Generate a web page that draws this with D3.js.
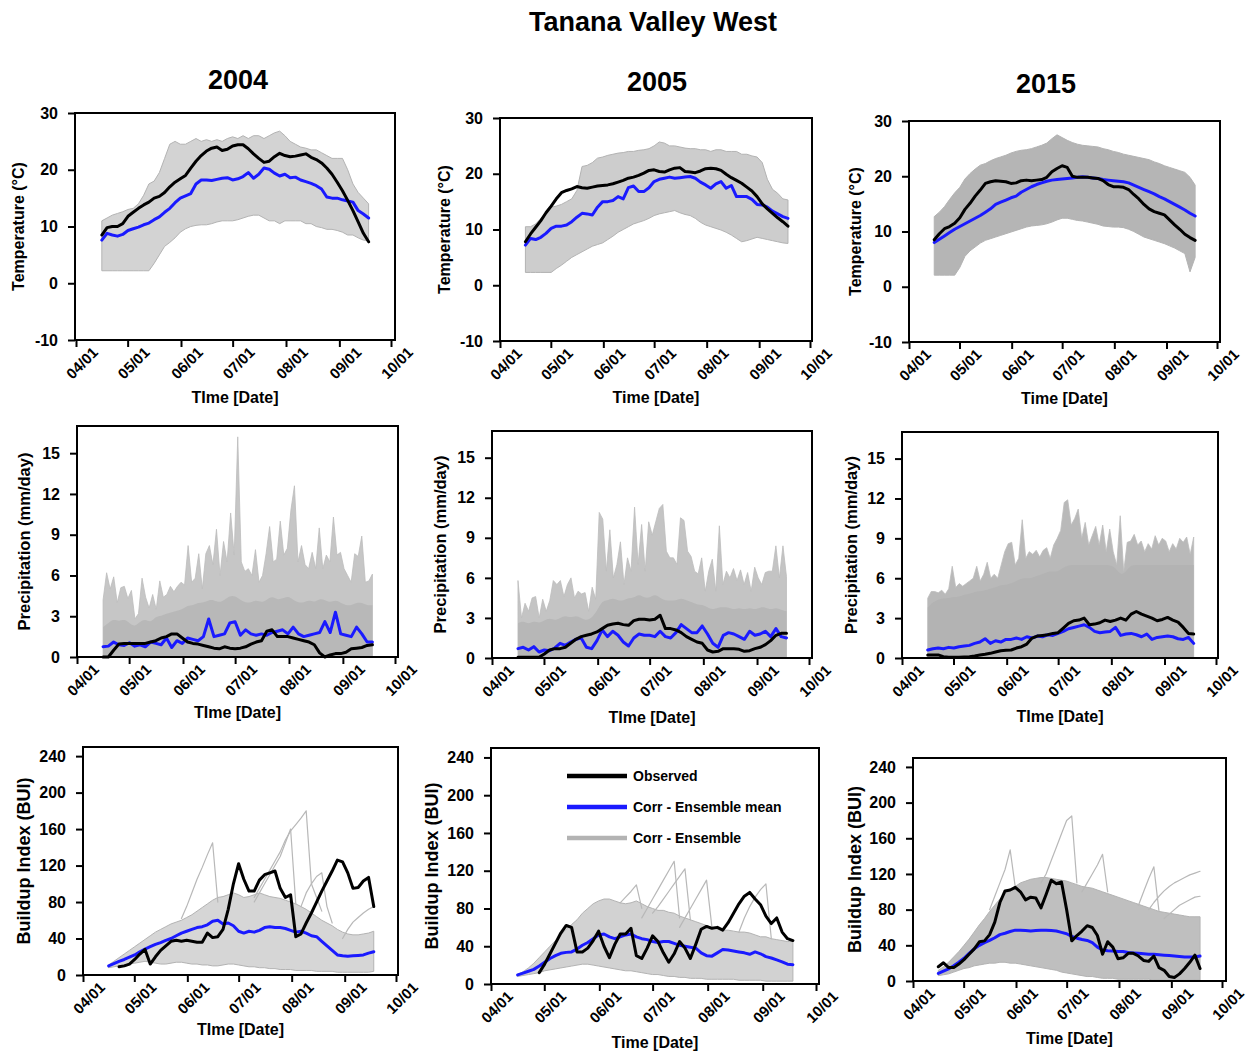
<!DOCTYPE html>
<html>
<head>
<meta charset="utf-8">
<title>Tanana Valley West</title>
<script src="https://cdn.jsdelivr.net/npm/d3@7"></script>
<style>
  body { margin: 0; background: #fff; }
  svg text { font-family: "Liberation Sans", Arial, Helvetica, sans-serif; font-weight: bold; fill: #000; }
</style>
</head>
<body>
<div id="chart"></div>
<script>
// ---------- data ----------
var mainTitle = "Tanana Valley West";
var years = ["2004", "2005", "2015"];
var monthTicks = ["04/01", "05/01", "06/01", "07/01", "08/01", "09/01", "10/01"];
var seriesStart = "04/16", seriesEnd = "09/18";   // first / last simulated day
var tempTicks = [-10, 0, 10, 20, 30];
var precTicks = [0, 3, 6, 9, 12, 15];
var buiTicks = [0, 40, 80, 120, 160, 200, 240];
var legendItems = ["Observed", "Corr - Ensemble mean", "Corr - Ensemble"];

// temperature, every ~3 days
var tObs04 = [8.5, 9.8, 10, 10, 10.5, 11.8, 12.5, 13.2, 13.8, 14.3, 15, 15.3, 16, 17, 17.8, 18.4, 19, 20.3, 21.5, 22.5, 23.3, 23.8, 24, 23.4, 23.6, 24.2, 24.4, 24.4, 23.7, 22.8, 22, 21.3, 21.5, 22.3, 22.9, 22.5, 22.3, 22.4, 22.6, 22.8, 22.2, 21.8, 21.2, 20.3, 19.2, 17.8, 16.3, 14.6, 12.8, 10.8, 8.8, 7.3];
var tMean04 = [7.6, 8.8, 8.5, 8.3, 8.6, 9.3, 9.6, 9.9, 10.3, 10.6, 11.2, 11.7, 12.5, 13.2, 14.2, 15, 15.4, 15.8, 17.5, 18.2, 18.2, 18.1, 18.3, 18.5, 18.6, 18.2, 18.4, 18.8, 19.5, 18.5, 19.2, 20.3, 20.1, 19.4, 18.9, 19.2, 18.6, 18.7, 18.2, 17.9, 17.6, 17.2, 16.6, 15.2, 15, 15, 14.7, 14.5, 14.3, 12.8, 12.2, 11.5];
var tHi04 = [11, 11.5, 12, 12.3, 12.6, 13, 13.2, 14, 15.5, 17.5, 18, 19.5, 22, 24.5, 25, 24.5, 24.5, 25, 25.5, 25, 25.3, 25, 25.3, 25, 25.5, 25.8, 25.5, 26, 25.5, 26, 26, 25.5, 26, 26.5, 26.8, 26, 25, 24.5, 24, 23.8, 23.5, 23.5, 23, 22.5, 22, 22, 22, 20, 17.5, 16, 15, 14];
var tLo04 = [2.2, 2.2, 2.2, 2.2, 2.2, 2.2, 2.2, 2.2, 2.2, 2.2, 3.5, 5, 6.5, 7.2, 8, 9, 9.6, 10, 10.2, 10.3, 10.3, 10.5, 10.8, 11, 11, 11, 11.2, 11.5, 11.8, 12, 12, 11.5, 11, 11, 10.5, 11, 11, 11, 11, 10.5, 10.5, 10, 9.8, 9.5, 9.5, 9.3, 9, 8.5, 8.5, 8, 7.6, 7.5];

var tObs05 = [7.8, 9.2, 10.4, 11.6, 13, 14.2, 15.5, 16.6, 17, 17.3, 17.7, 17.5, 17.4, 17.6, 17.8, 17.9, 18, 18.2, 18.5, 18.8, 19.2, 19.4, 19.7, 20.1, 20.6, 20.7, 20.4, 20.3, 20.7, 21, 21.1, 20.4, 20.3, 20.2, 20.5, 20.9, 21, 20.9, 20.6, 19.9, 19.3, 18.8, 18.3, 17.6, 16.9, 15.9, 14.6, 13.7, 12.9, 12.1, 11.4, 10.6];
var tMean05 = [7.2, 8.4, 8.2, 8.6, 9.3, 10.2, 10.6, 10.6, 10.8, 11.4, 12.2, 12.9, 12.8, 12.6, 14, 15, 15, 15.2, 15.9, 15.5, 17.5, 17.8, 16.8, 16.8, 17.5, 18.6, 19, 19.2, 19.4, 19.2, 19.3, 19.4, 19.5, 19.2, 18.5, 18, 17.4, 18.2, 18.6, 17.4, 17.9, 15.9, 15.9, 15.9, 15.4, 14.5, 14.4, 14, 13.3, 12.8, 12.3, 12];
var tHi05 = [10.5, 10.5, 11, 12, 13, 14, 14.2, 14.5, 15, 15.5, 17, 21.3, 21.5, 22, 22.8, 23, 23.3, 23.5, 23.7, 23.8, 24, 24, 24.2, 24.3, 24.5, 25, 25.7, 25.5, 25, 25, 24.8, 24.6, 24.5, 24.5, 24.3, 24.3, 24, 24.3, 24.3, 24, 24, 24, 23.5, 23.5, 23.2, 23, 22, 19, 17.2, 16.5, 15.5, 15.3];
var tLo05 = [2.3, 2.3, 2.3, 2.3, 2.3, 2.3, 3, 3.6, 4.3, 5, 5.5, 6, 6.5, 7, 7.3, 7.6, 8.2, 8.8, 9.5, 10, 10.5, 11, 11.3, 11.6, 12, 12.5, 12.8, 13, 13.2, 13.4, 13, 12.7, 12.5, 12, 11.3, 10.8, 10.5, 10.2, 9.9, 9.5, 9, 8.4, 7.8, 8, 8.3, 8.6, 8.4, 8.2, 8, 7.8, 7.6, 7.5];

var tObs15 = [8.5, 9.6, 10.5, 10.9, 11.5, 12.5, 14, 15.1, 16.4, 17.5, 18.7, 19, 19.2, 19.1, 19, 18.7, 18.8, 19.2, 19.3, 19.2, 19.3, 19.4, 19.8, 20.8, 21.4, 21.9, 21.6, 20, 19.8, 19.8, 19.8, 19.7, 19.6, 19.2, 18.5, 18.1, 18.1, 18, 17.6, 16.7, 15.9, 14.9, 14.1, 13.6, 13.3, 13, 12.1, 11.2, 10.4, 9.5, 8.9, 8.4];
var tMean15 = [8, 8.6, 9.2, 9.8, 10.4, 10.9, 11.4, 11.9, 12.4, 12.9, 13.5, 14.1, 14.9, 15.3, 15.7, 16.1, 16.4, 17.1, 17.6, 18.1, 18.5, 18.8, 19.1, 19.3, 19.4, 19.5, 19.6, 19.7, 19.8, 19.9, 19.8, 19.7, 19.6, 19.4, 19.3, 19.2, 19.1, 19, 18.8, 18.4, 18, 17.6, 17.2, 16.8, 16.3, 15.9, 15.4, 14.9, 14.4, 13.9, 13.3, 12.8];
var tHi15 = [12.7, 13.5, 14.5, 15.8, 17, 18, 19.5, 20.5, 21.3, 22, 22.3, 22.8, 23.2, 23.5, 23.8, 24.2, 24.5, 24.7, 24.8, 25, 25.3, 25.6, 26, 26.8, 27.5, 27, 26.5, 26.1, 25.8, 25.6, 25.5, 25.4, 25.3, 25, 24.8, 24.5, 24.3, 24, 23.8, 23.6, 23.4, 23.2, 23, 22.6, 22.3, 21.9, 21.6, 21.3, 21, 20.7, 19.8, 18.4];
var tLo15 = [2.1, 2.1, 2.1, 2.1, 2.1, 3.5, 5.5, 6.5, 7.2, 7.9, 8.4, 8.7, 9, 9.3, 9.6, 9.9, 10.2, 10.5, 10.8, 11, 11.1, 11.2, 11.4, 11.7, 12.1, 12.4, 12.4, 12.2, 12, 11.9, 11.7, 11.5, 11.3, 11, 10.9, 10.8, 10.8, 10.7, 10.4, 10, 9.5, 9, 8.7, 8.4, 8.1, 7.8, 7.4, 7, 6.5, 6, 2.7, 5.3];

// precipitation: obs / mean / dense ensemble core every ~3 days, ensemble peaks every ~2 days
var pObs04 = [0, 0, 0.5, 0.95, 1, 1, 1, 1, 1, 1.1, 1.2, 1.4, 1.5, 1.7, 1.7, 1.4, 1.1, 1, 0.95, 0.85, 0.75, 0.65, 0.6, 0.75, 0.65, 0.6, 0.65, 0.75, 0.95, 1.1, 1.2, 1.9, 2, 1.5, 1.5, 1.5, 1.4, 1.3, 1.2, 1.1, 0.9, 0.3, 0, 0.15, 0.25, 0.25, 0.35, 0.6, 0.65, 0.7, 0.85, 0.9];
var pMean04 = [0.76, 0.8, 1.1, 0.9, 0.85, 1.05, 0.8, 0.9, 0.75, 1.1, 1, 0.9, 1.4, 0.7, 1.2, 1, 1.4, 1.3, 1.2, 1.5, 2.8, 1.5, 1.6, 1.7, 2.5, 2.6, 1.6, 2, 1.7, 1.6, 1.7, 1.6, 1.8, 1.9, 2, 1.7, 2.2, 1.7, 1.5, 1.6, 1.7, 1.8, 2.6, 1.8, 3.3, 1.7, 1.6, 1.5, 2.2, 1.7, 1.1, 1.1];
var pCore04 = [2.2, 2.5, 2.8, 2.6, 2.8, 2.5, 2.2, 2.6, 2.8, 2.5, 3, 3, 3.2, 3.3, 3.4, 3.5, 3.8, 3.8, 4, 4, 4.2, 4.2, 4, 4.2, 4.5, 4.5, 4.2, 4, 4, 4.2, 4, 4.2, 4.5, 4.2, 4.3, 4.5, 4.2, 4, 4, 4.2, 4, 4.3, 4.2, 4, 4.2, 4, 3.8, 3.8, 4, 4, 3.8, 3.8];
var pPeak04 = [4.2, 6.2, 5.0, 5.9, 4.0, 5.1, 5.2, 4.3, 4.9, 2.8, 3.2, 5.8, 4.4, 3.6, 4.6, 3.5, 5.6, 4.4, 4.6, 5.2, 4.8, 5.2, 5.5, 5.3, 8.2, 5.5, 5.8, 7.6, 5.0, 7.6, 8.2, 6.8, 9.4, 6.0, 8.5, 7.0, 10.6, 7.5, 16.2, 7.0, 6.3, 6.5, 6.0, 7.9, 5.5, 6.0, 7.6, 9.6, 7.0, 7.2, 10.0, 7.5, 8.0, 10.8, 12.6, 7.0, 8.2, 6.8, 6.5, 7.7, 6.5, 9.5, 6.5, 7.5, 7.0, 10.3, 7.5, 7.7, 6.5, 6.0, 5.5, 7.6, 7.4, 8.9, 5.5, 5.6, 6.1];

var pObs05 = [0.05, 0.05, 0.05, 0.05, 0.05, 0.3, 0.6, 0.7, 0.7, 0.8, 1.1, 1.4, 1.6, 1.7, 1.8, 1.95, 2.2, 2.45, 2.55, 2.6, 2.5, 2.45, 2.8, 2.9, 2.9, 2.85, 2.9, 3.2, 2.2, 2.2, 2.1, 1.9, 1.6, 1.4, 1.2, 1.1, 0.6, 0.45, 0.5, 0.7, 0.7, 0.7, 0.65, 0.5, 0.55, 0.7, 0.8, 1, 1.3, 1.7, 1.85, 1.85];
var pMean05 = [0.7, 0.8, 0.6, 0.85, 0.45, 0.6, 0.55, 0.75, 1.1, 0.95, 1.2, 1.4, 1.5, 0.8, 0.7, 1.3, 2.1, 1.6, 2, 1.7, 1.2, 0.9, 1.5, 1.8, 1.7, 1.7, 1.6, 2, 1.6, 1.5, 1.9, 2.5, 2.2, 1.9, 1.9, 2.4, 1.8, 1.1, 0.8, 1.7, 1.9, 1.8, 1.6, 1.4, 2, 1.7, 1.8, 2, 1.6, 2.2, 1.6, 1.5];
var pCore05 = [2.6, 2.8, 2.5, 2.8, 2.6, 2.8, 3, 2.8, 3, 3.2, 3, 3.2, 3, 2.8, 3, 3.5, 4.3, 4.3, 4.5, 4.3, 4.3, 4.5, 4.5, 4.8, 4.5, 4.5, 4.8, 4.5, 4.3, 4.3, 4.3, 4.5, 4.3, 4.2, 4, 4, 3.8, 3.6, 3.8, 3.8, 3.8, 3.6, 3.8, 3.6, 3.8, 3.6, 3.8, 3.8, 3.6, 3.8, 3.6, 3.5];
var pPeak05 = [5.8, 3.0, 4.1, 3.5, 4.5, 4.6, 3.0, 4.4, 3.5, 4.3, 5.8, 5.5, 5.8, 4.6, 5.5, 6.0, 4.5, 5.0, 4.8, 4.9, 3.5, 5.3, 4.4, 10.9, 10.4, 6.5, 9.6, 6.0, 7.0, 8.7, 5.5, 7.5, 6.5, 11.3, 7.0, 10.0, 6.5, 10.2, 9.2, 10.2, 11.2, 11.5, 8.0, 7.5, 7.5, 7.0, 10.5, 10.3, 8.0, 7.6, 6.5, 6.3, 7.5, 5.0, 6.5, 7.4, 5.0, 9.9, 5.5, 6.5, 6.0, 6.7, 5.8, 6.6, 5.5, 6.4, 5.0, 6.8, 6.0, 5.5, 6.4, 6.5, 6.5, 8.4, 6.0, 8.4, 6.1];

var pObs15 = [0.23, 0.23, 0.23, 0.1, 0.05, 0.05, 0.05, 0.08, 0.1, 0.15, 0.22, 0.28, 0.35, 0.45, 0.55, 0.58, 0.6, 0.75, 0.85, 1.05, 1.5, 1.65, 1.7, 1.75, 1.85, 1.9, 2.25, 2.6, 2.8, 2.85, 3, 2.5, 2.55, 2.65, 2.85, 2.75, 2.85, 3, 2.85, 3.3, 3.5, 3.3, 3.15, 3, 2.8, 2.9, 3.05, 2.85, 2.7, 2.3, 1.85, 1.8];
var pMean15 = [0.6, 0.7, 0.75, 0.7, 0.8, 0.75, 0.85, 0.9, 0.95, 1.1, 1.2, 1.45, 1.1, 1.3, 1.2, 1.4, 1.4, 1.5, 1.4, 1.6, 1.5, 1.65, 1.6, 1.75, 1.7, 1.85, 2, 2.2, 2.3, 2.4, 2.5, 2.3, 2, 1.9, 1.95, 2, 2.3, 1.7, 1.8, 1.85, 1.75, 1.6, 1.8, 1.4, 1.55, 1.6, 1.65, 1.6, 1.45, 1.4, 1.55, 1.1];
var pCore15 = [3.8, 4.2, 4.4, 4.5, 4.5, 4.6, 4.6, 4.8, 4.8, 5, 5, 5.1, 5.2, 5.3, 5.5, 5.5, 5.6, 5.8, 6, 6, 6, 6.2, 6.3, 6.5, 6.5, 6.5, 6.8, 7, 7, 7, 7, 7, 7, 7, 7, 7, 6.8, 6.2, 6.5, 7, 7, 7, 7, 7, 7, 7, 7, 7, 7, 7, 7, 7];
var pPeak15 = [4.5, 5.0, 5.0, 4.9, 5.1, 4.8, 5.2, 6.9, 5.3, 5.6, 5.4, 5.6, 5.8, 6.0, 6.9, 5.8, 6.3, 7.2, 6.0, 6.3, 6.0, 7.0, 8.0, 8.6, 8.7, 7.0, 7.5, 10.4, 7.5, 8.0, 7.8, 8.1, 7.6, 8.1, 8.3, 7.5, 8.5, 9.0, 9.6, 11.7, 11.9, 10.0, 10.5, 11.2, 9.0, 10.2, 8.5, 9.2, 9.9, 8.5, 10.0, 8.0, 9.7, 8.0, 7.0, 10.7, 6.5, 8.7, 8.8, 9.3, 8.5, 8.8, 8.0, 8.6, 8.2, 9.2, 8.5, 9.0, 8.8, 8.0, 8.6, 8.2, 9.0, 8.7, 9.1, 7.8, 9.1];

// buildup index, every ~3 days (null = no observation yet)
var bObs04 = [null, null, 9, 10, 12, 17, 23, 28, 12, 20, 27, 32, 37, 38, 37, 38, 37, 36, 36, 46, 41, 42, 50, 72, 100, 122, 105, 92, 92, 104, 110, 112, 114, 95, 85, 88, 42, 45, 57, 68, 80, 92, 103, 114, 126, 124, 112, 95, 96, 103, 107, 75];
var bMean04 = [10, 12.5, 15, 17, 19.5, 22, 25.5, 28.5, 31, 33.5, 35.5, 38, 40, 43, 46, 48, 50, 52, 53, 55, 59, 60, 56, 57, 54, 48, 46, 48, 47, 49, 52, 53, 52, 52, 51, 49, 47, 48, 46, 43, 42, 37, 32, 27, 22, 21, 20.5, 21, 21.5, 22, 24, 25.5];
var bHi04 = [11, 15, 19, 23, 27, 31, 35, 39, 43, 47, 50, 53, 56, 58, 60, 63, 66, 70, 74, 78, 82, 85, 86, 88, 90, 88, 85, 86, 88, 90, 88, 86, 85, 84, 82, 80, 78, 75, 72, 68, 64, 60, 57, 54, 50, 47, 45, 44, 44, 45, 46, 48];
var bLo04 = [8, 9, 10, 11, 12, 13, 14, 15, 14, 13, 12, 12, 13, 14, 14, 13, 12, 12, 11, 11, 10, 10, 11, 12, 12, 11, 10, 9, 9, 8, 8, 7, 7, 6, 6, 6, 5, 5, 5, 5, 4, 4, 4, 4, 3, 3, 3, 3, 3, 3, 3, 4];
var bSpikeStart04 = [14, 28, 28, 37, 45];
var bSpikes04 = [
  [62, 75, 90, 105, 118, 132, 145, 80],
  [85, 95, 105, 115, 125, 135, 148, 158, 165, 172, 180, 100, 85, 70],
  [80, 90, 100, 110, 120, 130, 145, 160, 78],
  [75, 90, 100, 108, 112, 75, 57],
  [40, 50, 58, 63, 68, 72, 75]
];

var bObs05 = [null, null, null, null, 12, 21, 32, 43, 54, 62, 60, 34, 34, 38, 46, 56, 40, 28, 42, 53, 53, 59, 30, 27, 38, 51, 45, 33, 23, 32, 45, 38, 27, 42, 58, 61, 59, 60, 57, 65, 75, 85, 93, 97, 90, 84, 72, 64, 70, 55, 48, 46];
var bMean05 = [9.6, 11.5, 13.5, 15.5, 19, 23, 27, 30, 32.5, 33.5, 34, 37, 41, 44, 48, 52, 53, 50, 48, 50, 52, 53, 50, 48, 47, 45, 44, 45, 45, 43, 41, 40, 39, 38, 33, 30, 29.5, 33, 36.5, 36, 35, 34, 33, 31.5, 34, 32, 29, 27.5, 25.5, 23.5, 21, 20.5];
var bHi05 = [10, 13, 17, 22, 28, 34, 40, 46, 52, 58, 63, 68, 75, 80, 85, 88, 90, 90, 88, 86, 85, 86, 88, 85, 82, 80, 78, 78, 76, 75, 72, 70, 68, 66, 64, 62, 60, 58, 57, 57, 56, 55, 55, 54, 52, 50, 50, 48, 47, 46, 45, 45];
var bLo05 = [8, 9, 10, 11, 12, 14, 15, 16, 17, 18, 19, 20, 21, 21, 20, 19, 18, 17, 16, 15, 14, 14, 13, 12, 11, 10, 10, 9, 8, 8, 7, 7, 6, 6, 6, 5, 5, 5, 5, 5, 5, 4, 4, 4, 4, 4, 3, 3, 3, 3, 3, 3];
var bSpikeStart05 = [23, 25, 30, 41, 19];
var bSpikes05 = [
  [70, 80, 90, 100, 110, 120, 130, 70],
  [75, 82, 90, 98, 106, 114, 122, 68],
  [60, 70, 80, 90, 100, 110, 60],
  [55, 70, 82, 92, 100, 106, 48],
  [86, 92, 98, 105, 80]
];

var bObs15 = [16, 20.5, 15, 15, 19, 24, 30, 36, 44, 45, 52, 66, 88, 101, 102, 105, 100, 91, 94, 93, 82, 97, 113, 109, 111, 80, 45, 51, 56, 62, 60, 51, 30, 44, 38, 25, 26, 31, 31, 28, 23, 22, 28, 15, 12, 5, 4, 8, 14, 21, 29, 14];
var bMean15 = [8.6, 11, 13.5, 17, 21, 25.5, 31, 36, 40, 43, 45.5, 48.5, 52, 53.5, 55.5, 57, 57, 56.5, 56, 56.5, 57, 57, 56.5, 56, 54.5, 53, 50, 48, 46.5, 45.5, 43, 38, 34.8, 34, 33.5, 33, 33, 32, 31.5, 31, 30.5, 30, 30, 29.5, 29, 28.5, 28, 27.5, 27, 27, 27, 28];
var bHi15 = [12, 16, 21, 27, 33, 40, 47, 55, 63, 70, 78, 85, 92, 98, 102, 106, 110, 112, 114, 115, 116, 116, 115, 114, 113, 112, 110, 108, 106, 105, 104, 102, 100, 98, 96, 94, 92, 90, 88, 86, 84, 82, 80, 78, 77, 76, 75, 74, 73, 72, 72, 72];
var bLo15 = [6, 7, 8, 10, 12, 14, 15, 17, 18, 19, 20, 20, 21, 21, 20, 20, 19, 18, 17, 16, 15, 14, 13, 12, 10, 9, 8, 7, 6, 5, 5, 4, 3, 3, 3, 2, 2, 2, 2, 2, 2, 2, 1, 1, 1, 1, 1, 1, 1, 1, 1, 1];
var bSpikeStart15 = [20, 10, 28, 41, 39, 44];
var bSpikes15 = [
  [110, 120, 135, 150, 165, 180, 185, 110],
  [80, 95, 110, 125, 147, 105],
  [100, 110, 120, 130, 142, 100],
  [80, 88, 95, 101, 106, 110, 113, 116, 119, 121, 123],
  [85, 100, 115, 128, 78],
  [70, 75, 80, 85, 88, 91, 94, 95]
];

// ---------- layout ----------
var W = 1250, H = 1052;
var obsColor = "#000000", meanColor = "#1a1aff", ensColor = "#b3b3b3";
var yearX = [238, 657, 1046], yearY = [89, 91, 93];

var panels = [
  {kind: "temp", left: 75, right: 395, top: 113, bottom: 340, xa: 76, xb: 391, ytx: 24, xty: 403, xt: "TIme [Date]",
   obs: tObs04, mean: tMean04, lo: tLo04, hi: tHi04, fill: "#d3d3d3"},
  {kind: "temp", left: 500, right: 812, top: 118, bottom: 341, xa: 500, xb: 810, ytx: 450, xty: 403, xt: "Time [Date]",
   obs: tObs05, mean: tMean05, lo: tLo05, hi: tHi05, fill: "#cdcdcd"},
  {kind: "temp", left: 909, right: 1220, top: 121, bottom: 342, xa: 909, xb: 1217, ytx: 861, xty: 404, xt: "Time [Date]",
   obs: tObs15, mean: tMean15, lo: tLo15, hi: tHi15, fill: "#b5b5b5"},
  {kind: "prec", left: 77, right: 398, top: 426, bottom: 657, xa: 77, xb: 395, ytx: 30, xty: 718, xt: "TIme [Date]",
   obs: pObs04, mean: pMean04, core: pCore04, peaks: pPeak04, fill: "#c6c6c6", coreFill: "#b8b8b8"},
  {kind: "prec", left: 492, right: 812, top: 431, bottom: 658, xa: 492, xb: 809, ytx: 446, xty: 723, xt: "TIme [Date]",
   obs: pObs05, mean: pMean05, core: pCore05, peaks: pPeak05, fill: "#c4c4c4", coreFill: "#b7b7b7"},
  {kind: "prec", left: 902, right: 1218, top: 432, bottom: 658, xa: 902, xb: 1216, ytx: 857, xty: 722, xt: "TIme [Date]",
   obs: pObs15, mean: pMean15, core: pCore15, peaks: pPeak15, fill: "#b9b9b9", coreFill: "#b3b3b3"},
  {kind: "bui", left: 83, right: 398, top: 747, bottom: 975, xa: 83, xb: 396, ytx: 30, xty: 1035, xt: "TIme [Date]",
   obs: bObs04, mean: bMean04, lo: bLo04, hi: bHi04, spikes: bSpikes04, spikeStart: bSpikeStart04, fill: "#d6d6d6"},
  {kind: "bui", left: 491, right: 819, top: 748, bottom: 984, xa: 491, xb: 816, ytx: 438, xty: 1048, xt: "Time [Date]",
   obs: bObs05, mean: bMean05, lo: bLo05, hi: bHi05, spikes: bSpikes05, spikeStart: bSpikeStart05, fill: "#d2d2d2", legend: true},
  {kind: "bui", left: 913, right: 1226, top: 758, bottom: 981, xa: 913, xb: 1222, ytx: 861, xty: 1044, xt: "Time [Date]",
   obs: bObs15, mean: bMean15, lo: bLo15, hi: bHi15, spikes: bSpikes15, spikeStart: bSpikeStart15, fill: "#bfbfbf"}
];

var kinds = {
  temp: {domain: [-10, 30], ticks: tempTicks, title: "Temperature (\u00B0C)", size: 16},
  prec: {domain: [0, 17], ticks: precTicks, title: "Precipitation (mm/day)", size: 16.5},
  bui:  {domain: [0, 250], ticks: buiTicks, title: "Buildup Index (BUI)", size: 18}
};

// ---------- helpers ----------
var parseDay = d3.timeParse("%m/%d/%Y");
function toDate(lbl) { return parseDay(lbl + "/2004"); }
var monthDates = monthTicks.map(toDate);
var t0 = toDate(seriesStart), t1 = toDate(seriesEnd);

// spread n samples evenly between the first and last simulated day
function gridDates(n) {
    var out = [];
    for (var i = 0; i < n; i++) out.push(new Date(+t0 + (t1 - t0) * i / (n - 1)));
    return out;
}

function pairs(dates, values, offset) {
    offset = offset || 0;
    return values.map(function(v, i) { return {t: dates[i + offset], v: v}; });
}

function addLine(g, x, y, pts, color, width) {
    g.append("path")
        .datum(pts)
        .attr("fill", "none")
        .attr("stroke", color)
        .attr("stroke-width", width)
        .attr("stroke-linejoin", "round")
        .attr("stroke-linecap", "round")
        .attr("d", d3.line()
            .defined(function(d) { return d.v !== null; })
            .x(function(d) { return x(d.t); })
            .y(function(d) { return y(d.v); })
        );
}

// ---------- draw ----------
var svg = d3.select("#chart").append("svg")
    .attr("width", W)
    .attr("height", H)
    .style("background", "#fff");

svg.append("text")
    .attr("x", 653).attr("y", 31)
    .attr("text-anchor", "middle")
    .style("font-size", "27px")
    .text(mainTitle);

years.forEach(function(yr, i) {
    svg.append("text")
        .attr("x", yearX[i]).attr("y", yearY[i])
        .attr("text-anchor", "middle")
        .style("font-size", "27px")
        .text(yr);
});

panels.forEach(function(p) {
    var k = kinds[p.kind];
    var x = d3.scaleTime()
        .domain([monthDates[0], monthDates[monthDates.length - 1]])
        .range([p.xa, p.xb]);
    var y = d3.scaleLinear()
        .domain(k.domain)
        .range([p.bottom, p.top]);
    var g = svg.append("g");
    var dates = gridDates(p.obs.length);

    // ensemble
    if (p.kind === "prec") {
        var peakDates = gridDates(p.peaks.length);
        g.append("path")
            .datum(pairs(peakDates, p.peaks))
            .attr("fill", p.fill)
            .attr("stroke", "#bdbdbd")
            .attr("stroke-width", 0.8)
            .attr("d", d3.area()
                .x(function(d) { return x(d.t); })
                .y0(y(0))
                .y1(function(d) { return y(d.v); }));
        g.append("path")
            .datum(pairs(dates, p.core))
            .attr("fill", p.coreFill)
            .attr("d", d3.area()
                .curve(d3.curveBasis)
                .x(function(d) { return x(d.t); })
                .y0(y(0))
                .y1(function(d) { return y(d.v); }));
    } else {
        var band = p.lo.map(function(v, i) { return {t: dates[i], lo: v, hi: p.hi[i]}; });
        g.append("path")
            .datum(band)
            .attr("fill", p.fill)
            .attr("stroke", "#b3b3b3")
            .attr("stroke-width", 1)
            .attr("d", d3.area()
                .x(function(d) { return x(d.t); })
                .y0(function(d) { return y(d.lo); })
                .y1(function(d) { return y(d.hi); }));
        if (p.spikes) {
            p.spikes.forEach(function(s, j) {
                addLine(g, x, y, pairs(dates, s, p.spikeStart[j]), "#b8b8b8", 1.2);
            });
        }
    }

    // ensemble mean and observations
    addLine(g, x, y, pairs(dates, p.mean), meanColor, 3);
    addLine(g, x, y, pairs(dates, p.obs), obsColor, 3);

    // Add Y axis
    var ya = g.append("g")
        .attr("transform", "translate(" + p.left + ",0)")
        .call(d3.axisLeft(y).tickValues(k.ticks).tickSize(7).tickPadding(10)
            .tickFormat(function(d) { return String(d); }));
    ya.select(".domain").remove();
    ya.selectAll(".tick line").attr("stroke", "#000").attr("stroke-width", 2);
    ya.selectAll(".tick text").style("font-size", "16px").attr("fill", "#000");

    // Add X axis --> dates, labels turned 45 degrees
    var xa = g.append("g")
        .attr("transform", "translate(0," + p.bottom + ")")
        .call(d3.axisBottom(x).tickValues(monthDates).tickSize(7).tickFormat(d3.timeFormat("%m/%d")));
    xa.select(".domain").remove();
    xa.selectAll(".tick line").attr("stroke", "#000").attr("stroke-width", 2);
    xa.selectAll(".tick text")
        .style("font-size", "15px")
        .attr("fill", "#000")
        .attr("x", 0).attr("y", 0).attr("dy", "0.35em")
        .attr("text-anchor", "middle")
        .attr("transform", "translate(5.5,23) rotate(-45)");

    // frame
    g.append("rect")
        .attr("x", p.left).attr("y", p.top)
        .attr("width", p.right - p.left).attr("height", p.bottom - p.top)
        .attr("fill", "none")
        .attr("stroke", "#000")
        .attr("stroke-width", 2);

    // axis titles
    var cy = (p.top + p.bottom) / 2;
    g.append("text")
        .attr("x", p.ytx).attr("y", cy)
        .attr("text-anchor", "middle")
        .attr("transform", "rotate(-90," + p.ytx + "," + cy + ")")
        .style("font-size", k.size + "px")
        .text(k.title);
    g.append("text")
        .attr("x", (p.left + p.right) / 2).attr("y", p.xty)
        .attr("text-anchor", "middle")
        .style("font-size", "16px")
        .text(p.xt);

    // legend sits inside the middle BUI panel
    if (p.legend) {
        var colors = [obsColor, meanColor, ensColor];
        legendItems.forEach(function(name, i) {
            var ly = p.top + 28 + i * 31;
            g.append("line")
                .attr("x1", p.left + 76).attr("x2", p.left + 136)
                .attr("y1", ly).attr("y2", ly)
                .attr("stroke", colors[i])
                .attr("stroke-width", 4.5);
            g.append("text")
                .attr("x", p.left + 142).attr("y", ly)
                .attr("dy", "0.35em")
                .style("font-size", "14px")
                .text(name);
        });
    }
});
</script>
</body>
</html>
